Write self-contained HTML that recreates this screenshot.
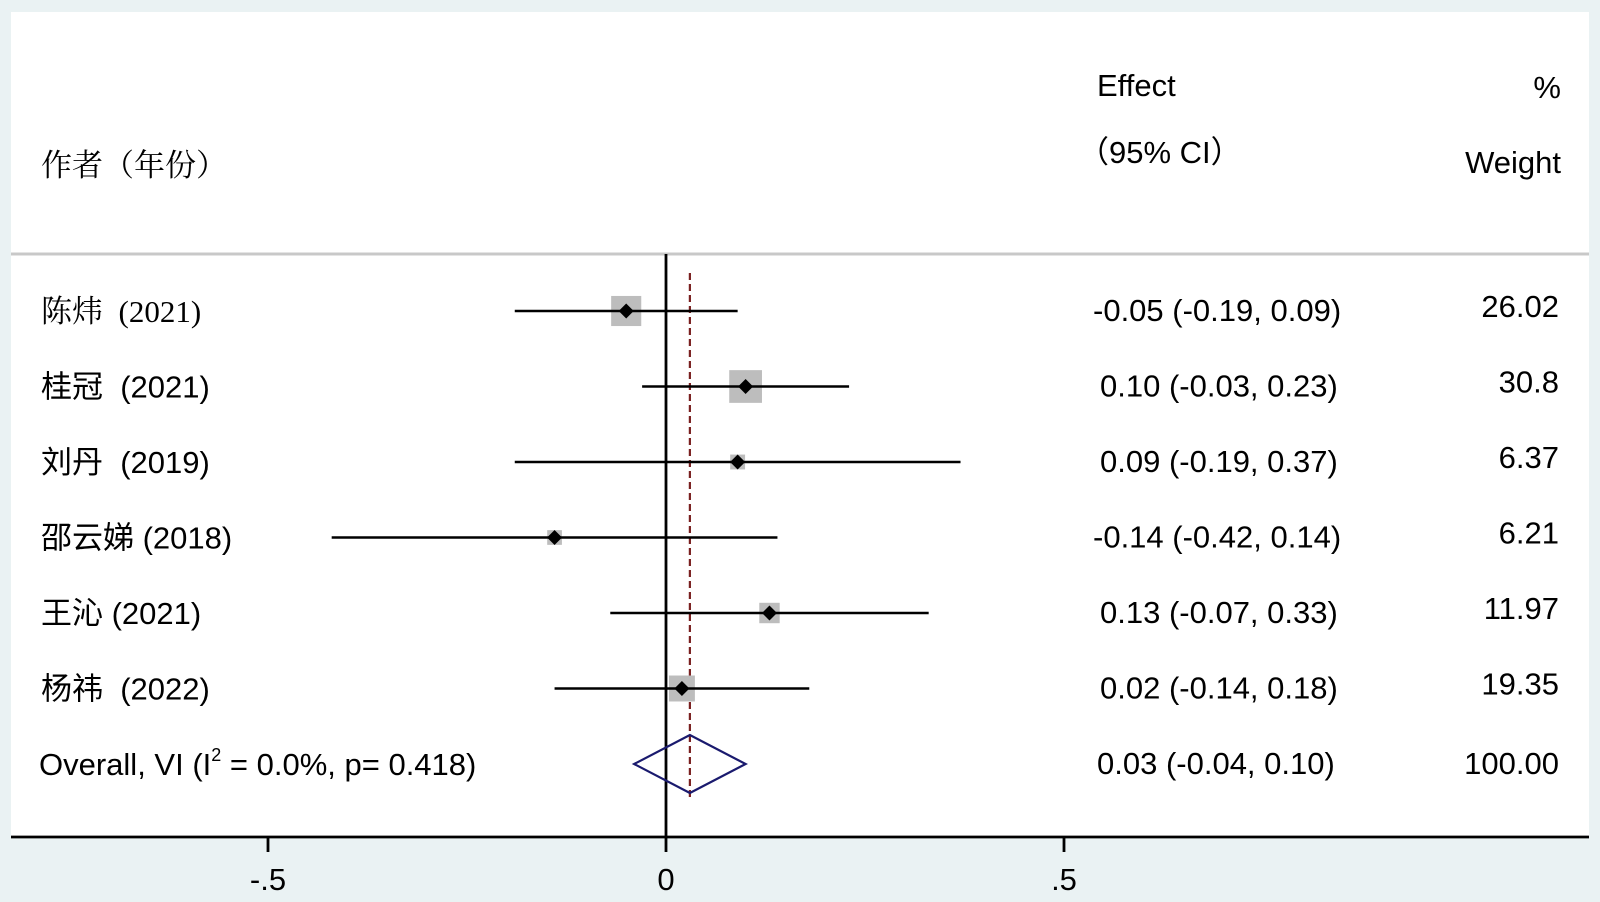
<!DOCTYPE html>
<html><head><meta charset="utf-8"><style>
html,body{margin:0;padding:0;background:#eaf2f3;}
svg{display:block;}
text{font-family:"Liberation Sans","Noto Sans CJK SC",sans-serif;font-size:31px;fill:#000;}
.serif{font-family:"Liberation Serif","Noto Serif CJK SC",serif;}
</style></head><body>
<svg id="chart" width="1600" height="902"></svg>
<script>
const studies=["陈炜  (2021)","桂冠  (2021)","刘丹  (2019)","邵云娣 (2018)","王沁 (2021)","杨祎  (2022)"];
const effects=[-0.05,0.10,0.09,-0.14,0.13,0.02];
const lower=[-0.19,-0.03,-0.19,-0.42,-0.07,-0.14];
const upper=[0.09,0.23,0.37,0.14,0.33,0.18];
const weights=[26.02,30.8,6.37,6.21,11.97,19.35];
const ciText=["-0.05 (-0.19, 0.09)","0.10 (-0.03, 0.23)","0.09 (-0.19, 0.37)","-0.14 (-0.42, 0.14)","0.13 (-0.07, 0.33)","0.02 (-0.14, 0.18)"];
const weightText=["26.02","30.8","6.37","6.21","11.97","19.35"];
const overall=[0.03,-0.04,0.10];
const overallText="0.03 (-0.04, 0.10)";
const tickVals=[-0.5,0,0.5];
const tickLabels=["-.5","0",".5"];

const svg=document.getElementById('chart');
const NS='http://www.w3.org/2000/svg';
function X(v){return 666+v*796;}
function Y(i){return 311+i*75.5;}
function mk(tag,attrs,parent){const e=document.createElementNS(NS,tag);for(const k in attrs)e.setAttribute(k,attrs[k]);(parent||svg).appendChild(e);return e;}
function txt(s,x,y,anchor,cls){const t=mk('text',{x:x,y:y,'text-anchor':anchor||'start'});if(cls)t.setAttribute('class',cls);t.textContent=s;t.setAttribute('xml:space','preserve');t.style.whiteSpace='pre';return t;}

let e;
e=mk('rect',{x:11,y:12,width:1578,height:825,fill:'#fff'});


e=mk('line',{x1:11,y1:254,x2:1589,y2:254,stroke:'#c8c8c8','stroke-width':3});



e=txt('作者（年份）',41,176,'start','serif');


e=txt('Effect',1097,96);


e=txt('（95% CI）',1078,163);


e=txt('%',1561,98,'end');


e=txt('Weight',1561,173,'end');



e=mk('line',{x1:X(0),y1:254,x2:X(0),y2:837,stroke:'#000','stroke-width':2.8});


e=mk('line',{x1:X(overall[0]),y1:273,x2:X(overall[0]),y2:800,stroke:'#7a2020','stroke-width':2.2,'stroke-dasharray':'7,4'});



for(let i=0;i<studies.length;i++){
  const y=Y(i);
  const s=5.9*Math.sqrt(weights[i]);
  e=mk('rect',{x:X(effects[i])-s/2,y:y-s/2,width:s,height:s,fill:'#bdbdbd'});
  
  
  e=mk('line',{x1:X(lower[i]),y1:y,x2:X(upper[i]),y2:y,stroke:'#000','stroke-width':2.6});
  
  
  const cx=X(effects[i]),d=7.5;
  e=mk('polygon',{points:`${cx},${y-d} ${cx+d},${y} ${cx},${y+d} ${cx-d},${y}`,fill:'#000'});
  
  
  e=txt(studies[i],41,y+11,'start',i===0?'serif':null);
  
  
  e=txt(ciText[i],effects[i]<0?1093:1100,y+10);
  
  
  e=txt(weightText[i],1559,y+6,'end');
  
  
}
const yo=Y(6);
e=mk('polygon',{points:`${X(overall[1])},${yo} ${X(overall[0])},${yo-29} ${X(overall[2])},${yo} ${X(overall[0])},${yo+29}`,fill:'none',stroke:'#1a1a6e','stroke-width':2.2});


const ol=mk('text',{x:39,y:yo+11});


ol.innerHTML='Overall, VI (I<tspan dy="-14" font-size="18">2</tspan><tspan dy="14"> = 0.0%, p= 0.418)</tspan>';
e=txt(overallText,1097,yo+10);


e=txt('100.00',1559,yo+10,'end');



e=mk('line',{x1:11,y1:837,x2:1589,y2:837,stroke:'#000','stroke-width':2.8});


for(let i=0;i<tickVals.length;i++){
  e=mk('line',{x1:X(tickVals[i]),y1:837,x2:X(tickVals[i]),y2:852,stroke:'#000','stroke-width':2.8});
  
  
  e=txt(tickLabels[i],X(tickVals[i]),890,'middle');
  
  
}
</script>
</body></html>
